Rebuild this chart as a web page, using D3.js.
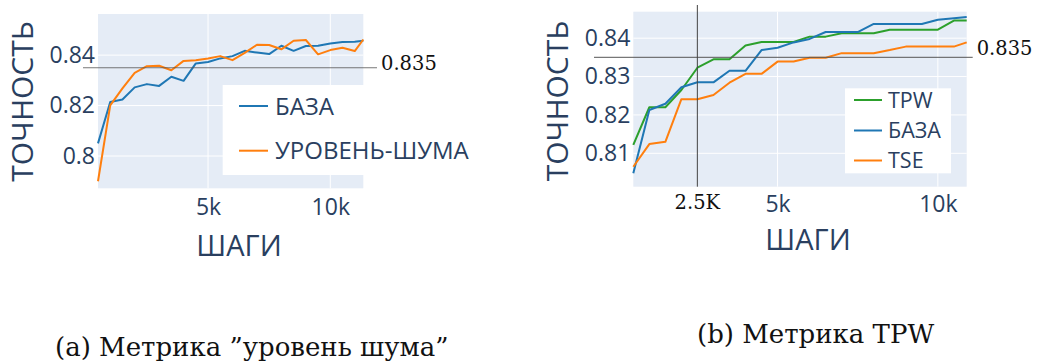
<!DOCTYPE html>
<html>
<head>
<meta charset="utf-8">
<script src="https://cdn.jsdelivr.net/npm/d3@7"></script>
<style>
  html, body { margin: 0; padding: 0; background: #fff; }
  svg { display: block; }
</style>
</head>
<body>
<svg id="fig" width="1037" height="364"></svg>
<script>
// ---- Panel (a): noise-level metric ----
const stepsA = [500, 1000, 1500, 2000, 2500, 3000, 3500, 4000, 4500, 5000, 5500, 6000,
                6500, 7000, 7500, 8000, 8500, 9000, 9500, 10000, 10500, 11000, 11350];
const baseA  = [0.805, 0.8214, 0.8224, 0.8272, 0.8285, 0.8278, 0.8314, 0.8298, 0.8367, 0.8373, 0.8387, 0.8396,
                0.8417, 0.8410, 0.8404, 0.8437, 0.8417, 0.8436, 0.8437, 0.8446, 0.8452, 0.8453, 0.8457];
const noiseA = [0.790, 0.8201, 0.8268, 0.8330, 0.8356, 0.8358, 0.8340, 0.8377, 0.8380, 0.8387, 0.8396, 0.8380,
                0.8409, 0.8441, 0.8440, 0.8423, 0.8457, 0.8460, 0.8403, 0.8420, 0.8429, 0.8416, 0.8462];
const yTicksA = [0.80, 0.82, 0.84];
const yTickLabelsA = ["0.8", "0.82", "0.84"];

// ---- Panel (b): TPW metric ----
const stepsB = [500, 1000, 1500, 2000, 2500, 3000, 3500, 4000, 4500, 5000, 5500,
                6000, 6500, 7000, 7500, 8000, 8500, 9000, 9500, 10000, 10500, 10900];
const tpwB  = [0.8122, 0.8220, 0.8220, 0.8265, 0.8323, 0.8345, 0.8345, 0.8381, 0.8390, 0.8390, 0.8390,
               0.8404, 0.8404, 0.8413, 0.8413, 0.8413, 0.8422, 0.8422, 0.8422, 0.8422, 0.8446, 0.8446];
const baseB = [0.8048, 0.8213, 0.8229, 0.8272, 0.8285, 0.8285, 0.8315, 0.8315, 0.8369, 0.8375, 0.8389,
               0.8398, 0.8416, 0.8416, 0.8416, 0.8437, 0.8437, 0.8437, 0.8437, 0.8448, 0.8452, 0.8455];
const tseB  = [0.8065, 0.8124, 0.8130, 0.8241, 0.8241, 0.8252, 0.8284, 0.8307, 0.8307, 0.8339, 0.8339,
               0.8349, 0.8349, 0.8361, 0.8361, 0.8361, 0.8369, 0.8378, 0.8378, 0.8378, 0.8378, 0.8389];
const yTicksB = [0.81, 0.82, 0.83, 0.84];
const yTickLabelsB = ["0.81", "0.82", "0.83", "0.84"];

// shared
const xTicks = [5000, 10000];
const xTickLabels = ["5k", "10k"];
const threshold = 0.835;
const thresholdLabel = "0.835";
const markStep = 2500;
const markStepLabel = "2.5K";
const seriesNames = { base: "БАЗА", noise: "УРОВЕНЬ-ШУМА", tpw: "TPW", tse: "TSE" };
const yTitle = "ТОЧНОСТЬ";
const xTitle = "ШАГИ";
const captionA = "(a) Метрика ”уровень шума”";
const captionB = "(b) Метрика TPW";

const COLORS = { blue: "#1f77b4", orange: "#ff7f0e", green: "#2ca02c" };
const INK = "#2a3f5f";
const SANS = "'Open Sans', 'Noto Sans', sans-serif";
const SERIF = "'DejaVu Serif', serif";

const svg = d3.select("#fig");

function panel(cfg) {
  const g = svg.append("g");
  const x = d3.scaleLinear().domain(cfg.xDomain).range([cfg.left, cfg.right]);
  const y = d3.scaleLinear().domain(cfg.yDomain).range([cfg.bottom, cfg.top]);

  // plot background
  g.append("rect")
    .attr("x", cfg.left).attr("y", cfg.top)
    .attr("width", cfg.right - cfg.left).attr("height", cfg.bottom - cfg.top)
    .attr("fill", "#E5ECF6");

  // grid lines
  g.append("g").selectAll("line").data(cfg.yTicks).join("line")
    .attr("x1", cfg.left).attr("x2", cfg.right)
    .attr("y1", d => y(d)).attr("y2", d => y(d))
    .attr("stroke", "#fff").attr("stroke-width", 1);
  g.append("g").selectAll("line").data(xTicks).join("line")
    .attr("y1", cfg.top).attr("y2", cfg.bottom)
    .attr("x1", d => x(d)).attr("x2", d => x(d))
    .attr("stroke", "#fff").attr("stroke-width", 1);

  // series
  const line = d3.line().x(d => x(d[0])).y(d => y(d[1]));
  cfg.series.forEach(s => {
    g.append("path")
      .datum(cfg.steps.map((st, i) => [st, s.values[i]]))
      .attr("d", line)
      .attr("fill", "none")
      .attr("stroke", s.color)
      .attr("stroke-width", 2)
      .attr("stroke-linejoin", "round");
  });

  // axes
  const yAxis = d3.axisLeft(y).tickValues(cfg.yTicks)
    .tickFormat((d, i) => cfg.yTickLabels[i]).tickSize(0).tickPadding(3);
  const ya = g.append("g").attr("transform", `translate(${cfg.left},0)`).call(yAxis);
  const xAxis = d3.axisBottom(x).tickValues(xTicks)
    .tickFormat((d, i) => xTickLabels[i]).tickSize(0).tickPadding(cfg.xPad);
  const xa = g.append("g").attr("transform", `translate(0,${cfg.bottom})`).call(xAxis);
  [ya, xa].forEach(a => {
    a.select(".domain").remove();
    a.selectAll("text").attr("fill", INK).style("font-family", SANS).style("font-size", "23px");
  });

  // axis titles
  g.append("text")
    .attr("transform", `translate(${cfg.yTitleX},${cfg.yTitleY}) rotate(-90)`)
    .attr("text-anchor", "middle").attr("dy", "0.36em")
    .attr("fill", INK).style("font-family", SANS).style("font-size", "30px")
    .text(yTitle);
  g.append("text")
    .attr("x", cfg.xTitleX).attr("y", cfg.xTitleY)
    .attr("text-anchor", "middle")
    .attr("fill", INK).style("font-family", SANS).style("font-size", "29px")
    .text(xTitle);

  // legend
  const lg = cfg.legend;
  g.append("rect").attr("x", lg.x).attr("y", lg.y).attr("width", lg.w).attr("height", lg.h).attr("fill", "#fff");
  cfg.series.forEach((s, i) => {
    const yy = lg.rows[i];
    g.append("line").attr("x1", lg.lineX1).attr("x2", lg.lineX2).attr("y1", yy).attr("y2", yy)
      .attr("stroke", s.color).attr("stroke-width", 2);
    g.append("text").attr("x", lg.textX).attr("y", yy).attr("dy", "0.36em")
      .attr("fill", INK).style("font-family", SANS).style("font-size", lg.font + "px")
      .text(s.name);
  });

  // threshold annotation
  const ty = y(threshold);
  g.append("line").attr("x1", cfg.hLine[0]).attr("x2", cfg.hLine[1]).attr("y1", ty).attr("y2", ty)
    .attr("stroke", "#555").attr("stroke-opacity", 0.8).attr("stroke-width", 1.2);
  g.append("text").attr("x", cfg.hLine[1] + 4).attr("y", ty + cfg.hLabelDy)
    .attr("fill", "#111").style("font-family", SERIF).style("font-size", "19.5px")
    .text(thresholdLabel);

  return { x, y, g };
}

const pA = panel({
  left: 98, right: 363.3, top: 14, bottom: 188.3,
  xDomain: [500, 11350], yDomain: [0.7872, 0.8563],
  yTicks: yTicksA, yTickLabels: yTickLabelsA, xPad: 10,
  steps: stepsA,
  series: [
    { name: seriesNames.base, values: baseA, color: COLORS.blue },
    { name: seriesNames.noise, values: noiseA, color: COLORS.orange }
  ],
  yTitleX: 22.5, yTitleY: 101.5, xTitleX: 239, xTitleY: 256,
  legend: { x: 222.7, y: 85, w: 260, h: 90, rows: [106, 150.7], lineX1: 239, lineX2: 268, textX: 275, font: 24 },
  hLine: [83, 377], hLabelDy: 2
});

const pB = panel({
  left: 633.3, right: 966.7, top: 11.7, bottom: 186.7,
  xDomain: [500, 10900], yDomain: [0.8013, 0.8469],
  yTicks: yTicksB, yTickLabels: yTickLabelsB, xPad: 9,
  steps: stepsB,
  series: [
    { name: seriesNames.tpw, values: tpwB, color: COLORS.green },
    { name: seriesNames.base, values: baseB, color: COLORS.blue },
    { name: seriesNames.tse, values: tseB, color: COLORS.orange }
  ],
  yTitleX: 557.5, yTitleY: 101, xTitleX: 808, xTitleY: 249.5,
  legend: { x: 845, y: 88.3, w: 106, h: 85, rows: [100, 130.5, 160.5], lineX1: 854, lineX2: 882, textX: 888, font: 21.5 },
  hLine: [594, 972.7], hLabelDy: -2
});

// vertical step marker on panel (b)
const vx = pB.x(markStep);
pB.g.append("line").attr("x1", vx).attr("x2", vx).attr("y1", 5).attr("y2", 186.7)
  .attr("stroke", "#444").attr("stroke-opacity", 0.85).attr("stroke-width", 1.2);
pB.g.append("text").attr("x", vx).attr("y", 209).attr("text-anchor", "middle")
  .attr("fill", "#111").style("font-family", SERIF).style("font-size", "19.5px")
  .text(markStepLabel);

// sub-figure captions
svg.append("text").attr("x", 55).attr("y", 356)
  .attr("fill", "#111").style("font-family", SERIF).style("font-size", "26px")
  .text(captionA);
svg.append("text").attr("x", 697).attr("y", 343)
  .attr("fill", "#111").style("font-family", SERIF).style("font-size", "26px")
  .text(captionB);
</script>
</body>
</html>
